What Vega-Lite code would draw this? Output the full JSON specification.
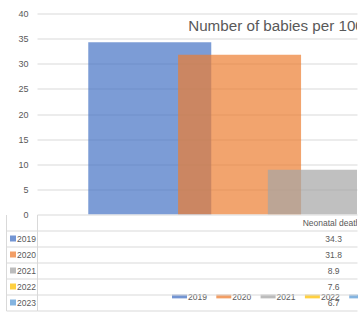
{
  "$schema": "https://vega.github.io/schema/vega-lite/v6.json",
  "padding": {"left": 5, "top": 9.5, "right": 0, "bottom": 0},
  "config": {
    "view": {"stroke": null},
    "font": "Liberation Sans",
    "axis": {"labelFont": "Liberation Sans"},
    "legend": {"labelFont": "Liberation Sans"}
  },
  "datasets": {
    "babies": [
      {"category": "Neonatal deaths", "year": 2019, "value": 34.3},
      {"category": "Neonatal deaths", "year": 2020, "value": 31.8},
      {"category": "Neonatal deaths", "year": 2021, "value": 8.9},
      {"category": "Neonatal deaths", "year": 2022, "value": 7.6},
      {"category": "Neonatal deaths", "year": 2023, "value": 6.7}
    ]
  },
  "spacing": 0,
  "bounds": "flush",
  "resolve": {"scale": {"color": "independent"}, "legend": {"color": "independent"}},
  "vconcat": [
    {
      "width": 320,
      "height": 201,
      "layer": [
        {
          "data": {"name": "babies"},
          "mark": {"type": "bar", "width": 123, "opacity": 0.7, "clip": true},
          "encoding": {
            "x": {"field": "year", "type": "quantitative", "scale": {"domain": [2017.8, 2021.252], "nice": false, "zero": false}, "axis": null},
            "y": {"field": "value", "type": "quantitative", "scale": {"domain": [0, 40], "nice": false},
              "axis": {"title": null, "tickCount": 8, "grid": true, "gridColor": "#D9D9D9", "domain": false, "ticks": false, "labelPadding": 9, "labelColor": "#595959", "labelFontSize": 9}},
            "color": {"field": "year", "type": "nominal",
              "scale": {"range": ["#4472C4", "#ED7D31", "#A5A5A5", "#FFC000", "#5B9BD5"]},
              "legend": {"title": null, "orient": "none", "legendX": 135, "legendY": 275.5, "direction": "horizontal", "columns": 5,
                "symbolType": "M-1,-0.25H1V0.25H-1Z", "symbolSize": 225, "symbolOpacity": 0.75, "symbolStrokeWidth": 0,
                "labelFontSize": 8.5, "labelColor": "#595959", "labelOffset": 1, "columnPadding": 9.3}}
          }
        },
        {
          "data": {"values": [{"label": "Number of babies per 1000 births"}]},
          "mark": {"type": "text", "clip": true, "align": "left", "baseline": "alphabetic", "fontSize": 15.2, "color": "#595959"},
          "encoding": {
            "x": {"datum": 2019.428, "type": "quantitative"},
            "y": {"datum": 36.6, "type": "quantitative"},
            "text": {"field": "label"}
          }
        }
      ]
    },
    {
      "width": 320,
      "height": 96,
      "data": {"name": "babies"},
      "transform": [{"joinaggregate": [{"op": "median", "field": "year", "as": "middleYear"}]}],
      "encoding": {
        "x": {"field": "middleYear", "type": "quantitative", "scale": {"domain": [2017.8, 2021.252], "nice": false, "zero": false}, "axis": null}
      },
      "resolve": {"axis": {"y": "independent"}},
      "layer": [
        {
          "mark": {"type": "square", "opacity": 0},
          "encoding": {
            "y": {"field": "year", "type": "ordinal", "scale": {"paddingInner": 0, "paddingOuter": 0.5, "align": 1},
              "axis": {"orient": "left", "title": null, "tickBand": "extent", "tickSize": 31, "tickColor": "#D9D9D9", "grid": true, "gridColor": "#D9D9D9",
                "domain": true, "domainColor": "#D9D9D9", "labelAlign": "left", "labelPadding": -10.5, "labelBaseline": "middle",
                "labelFontSize": 8.5, "labelColor": "#595959"}},
            "color": {"field": "year", "type": "nominal",
              "scale": {"range": ["#4472C4", "#ED7D31", "#A5A5A5", "#FFC000", "#5B9BD5"]},
              "legend": {"title": null, "orient": "none", "legendX": -27, "legendY": 21, "direction": "vertical",
                "symbolType": "square", "symbolSize": 36, "symbolOpacity": 0.75, "symbolStrokeWidth": 0,
                "labelExpr": "''", "labelFontSize": 6, "rowPadding": 10, "padding": 0}}
          }
        },
        {
          "mark": {"type": "text", "clip": true, "fontSize": 8.5, "color": "#595959", "baseline": "middle"},
          "encoding": {
            "y": {"field": "year", "type": "ordinal", "axis": null},
            "text": {"field": "value", "type": "quantitative", "format": ".1f"}
          }
        },
        {
          "transform": [{"aggregate": [{"op": "min", "field": "year", "as": "firstYear"}, {"op": "median", "field": "year", "as": "middleYear"}], "groupby": ["category"]}],
          "mark": {"type": "text", "clip": true, "fontSize": 8.5, "color": "#595959", "baseline": "middle"},
          "encoding": {
            "y": {"field": "firstYear", "type": "ordinal", "bandPosition": -0.5,
              "axis": {"orient": "left", "offset": 31, "title": null, "labels": false, "ticks": false, "grid": false, "domain": true, "domainColor": "#D9D9D9"}},
            "text": {"field": "category"}
          }
        }
      ]
    }
  ]
}
